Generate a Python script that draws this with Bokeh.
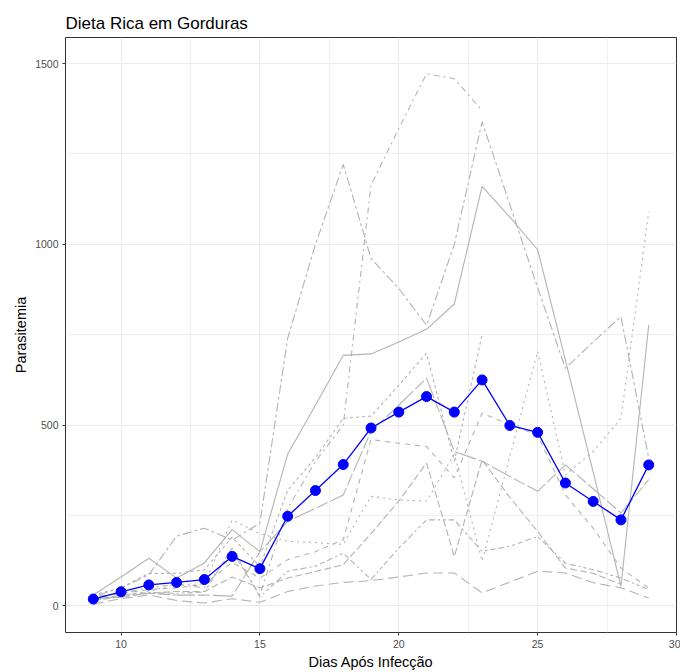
from bokeh.plotting import figure
from bokeh.models import Range1d, FixedTicker
from bokeh.embed import file_html
from bokeh.resources import INLINE

nan = float("nan")

days = list(range(9, 30))

# individual mice (parasitemia per day, days 9..29)
mouse_a = [30, 80, 132, 77, 119, 211, 150, 420, 555, 693, 697, 730, 765, 835, 1160, 1075, 985, 680, 370, 54, 777]
mouse_b = [25, 35, 50, 60, 50, 150, 30, 270, 400, 500, 1163, 1320, 1472, 1458, 1370, nan, nan, nan, nan, nan, nan]
mouse_c = [25, 50, 86, 193, 215, 182, 229, 740, 1000, 1221, 961, 878, 776, 1000, 1339, 1110, 880, 657, 730, 800, 409]
mouse_d = [30, 50, 90, 90, 100, 190, 109, 320, 410, 519, 525, 610, 699, 400, 750, nan, nan, nan, nan, nan, nan]
mouse_e = [20, 25, 35, 30, 30, 27, 150, 234, 270, 307, 483, 555, 630, 427, 400, 358, 317, 390, 324, 257, 349]
mouse_f = [20, 35, 45, 50, 60, 120, 77, 128, 150, 183, 460, 450, 441, 354, 533, 501, 473, 307, 215, 105, 49]
mouse_g = [15, 30, 40, 60, 60, 238, 200, 179, 175, 170, 303, 293, 290, 420, 124, 414, 704, 362, 427, 519, 1090]
mouse_h = [15, 25, 35, 40, 40, 80, 50, 77, 95, 114, 200, 290, 395, 137, 404, 300, 206, 105, 90, 60, nan]
mouse_i = [15, 30, 37, 35, 38, 160, 25, 96, 110, 146, 73, 160, 238, 238, 151, 165, 192, 118, 100, 77, 45]
mouse_j = [5, 20, 30, 15, 8, 20, 10, 40, 55, 65, 70, 80, 91, 91, 36, 66, 96, 91, 64, 50, 22]

# mean parasitemia per day
mean_values = [19, 39, 58, 65, 73, 137, 103, 248, 319, 391, 492, 536, 579, 536, 625, 499, 480, 340, 289, 238, 390]

x_ticks = [10, 15, 20, 25, 30]
x_minor = [12.5, 17.5, 22.5, 27.5]
y_ticks = [0, 500, 1000, 1500]
y_minor = [250, 750, 1250]

mice = [
    (mouse_a, "solid"),
    (mouse_b, "2 4 6 4"),
    (mouse_c, "3 3 9 3"),
    (mouse_d, "3 3"),
    (mouse_e, "22 3 12 3"),
    (mouse_f, "5 5"),
    (mouse_g, "2 4"),
    (mouse_h, "7 3"),
    (mouse_i, "2 3 3 3 5 3 6 3"),
    (mouse_j, "10 5"),
]

FONT = "Liberation Sans"

p = figure(
    width=680, height=672,
    output_backend="svg", toolbar_location=None,
    x_range=Range1d(8, 30), y_range=Range1d(-73.5, 1572),
    min_border_left=65, min_border_right=4, min_border_top=37, min_border_bottom=37,
    title="Dieta Rica em Gorduras",
)
p.background_fill_color = "white"
p.border_fill_color = "white"
p.outline_line_color = "#333333"
p.outline_line_width = 1

p.title.text_font = FONT
p.title.text_font_size = "17px"
p.title.text_font_style = "normal"
p.title.text_color = "black"
p.title.align = "left"
p.title.standoff = 9
p.title.offset = 0

p.xaxis.ticker = FixedTicker(ticks=x_ticks, minor_ticks=x_minor)
p.yaxis.ticker = FixedTicker(ticks=y_ticks, minor_ticks=y_minor)

for ax in (p.xaxis, p.yaxis):
    ax.axis_line_color = None
    ax.major_tick_line_color = "#333333"
    ax.major_tick_line_width = 1
    ax.major_tick_out = 3
    ax.major_tick_in = 0
    ax.minor_tick_line_color = None
    ax.major_label_text_font = FONT
    ax.major_label_text_font_size = "10.5px"
    ax.major_label_text_color = "#4D4D4D"
    ax.major_label_standoff = 3
    ax.axis_label_text_font = FONT
    ax.axis_label_text_font_size = "14.5px"
    ax.axis_label_text_font_style = "normal"
    ax.axis_label_text_color = "black"

p.xaxis.axis_label = "Dias Após Infecção"
p.yaxis.axis_label = "Parasitemia"
p.xaxis.axis_label_standoff = 3
p.yaxis.axis_label_standoff = 3

for g in (p.xgrid, p.ygrid):
    g.grid_line_color = "#EBEBEB"
    g.grid_line_width = 1
    g.minor_grid_line_color = "#EBEBEB"
    g.minor_grid_line_width = 0.8

for vals, dash in mice:
    p.line(days, vals, line_color="#B3B3B3", line_width=1.1, line_dash=dash)

p.line(days, mean_values, line_color="blue", line_width=1.3)
p.scatter(days, mean_values, size=10, fill_color="blue", line_color="blue")

open("out.html", "w").write(file_html(p, INLINE))
